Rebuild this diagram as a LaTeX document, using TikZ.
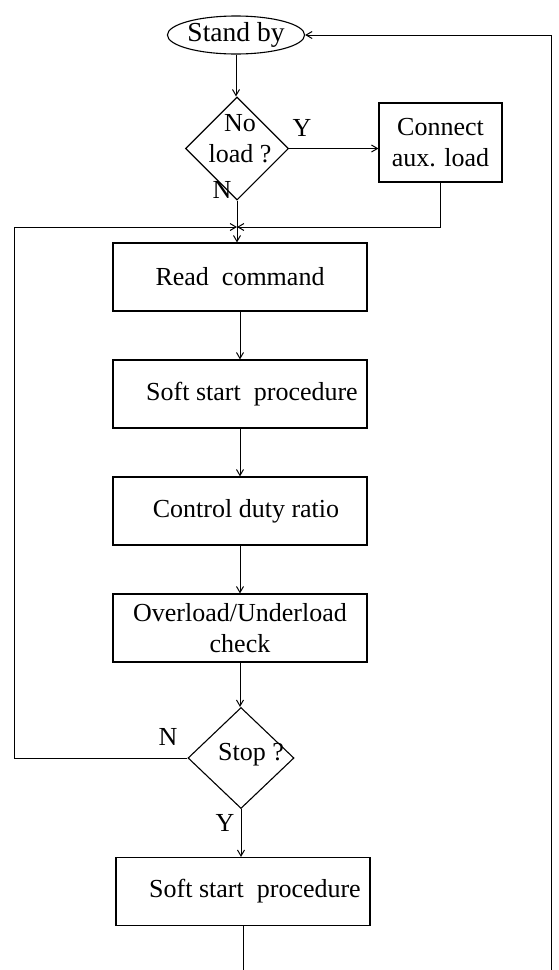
\documentclass[tikz,border=0pt]{standalone}
\usepackage{fontspec}
\setmainfont{Liberation Serif}
\usetikzlibrary{shapes.geometric,arrows.meta}
\begin{document}
\begin{tikzpicture}[x=1pt,y=-1pt,
  every node/.style={font=\fontsize{26}{31}\selectfont},
  box/.style={draw,line width=1.1pt,minimum width=254pt,minimum height=68pt,inner sep=0pt,align=center},
  dia/.style={draw,diamond,line width=1.1pt,inner sep=0pt},
  conn/.style={line width=1pt},
  arr/.style={conn,-{Straight Barb[length=6pt,width=7pt]}}]
\useasboundingbox (0,0) rectangle (559,970);
% nodes
\node[draw,ellipse,line width=1.1pt,minimum width=126pt,minimum height=38pt,inner sep=0pt,font=\fontsize{27.5}{31}\selectfont] (standby) at (236,35) {Stand by};
\node[dia,minimum width=103pt,minimum height=103pt] (q1) at (237,148.5) {};
\node[align=center] (q1t) at (240,139) {No\\load ?};
\node[box,minimum width=123pt,minimum height=79pt] (conn) at (440.5,142.5) {Connect\\aux. load};
\coordinate (jn) at (237,227);
\node[box] (read) at (240,277) {Read\ \ command};
\node[box] (soft1) at (240,394) {\hspace*{24pt}Soft start\ \ procedure};
\node[box] (ctrl) at (240,511) {\hspace*{12pt}Control duty ratio};
\node[box] (over) at (240,628) {Overload/Underload\\check};
\node[dia,minimum width=106pt,minimum height=101pt] (stop) at (241,758) {};
\node (stopt) at (251,755) {Stop ?};
\node[box] (soft2) at (243,891.5) {\hspace*{24pt}Soft start\ \ procedure};
% labels
\node (y1) at (302,128) {Y};
\node (n1) at (222,190) {N};
\node (n2) at (168,737) {N};
\node (y2) at (225,823) {Y};
% helper coordinates
\coordinate (lt) at (14,227);
\coordinate (rb) at (551,970);
\coordinate (bb) at (243,970);
% connectors
\draw[arr] (standby.south) -- (standby.south |- q1.north);
\draw[arr] (q1.east) -- (q1.east -| conn.west);
\draw[conn] (q1.south) -- (q1.south |- jn);
\draw[arr] (conn.south) |- (jn);
\draw[arr] (stop.west) -| (lt) -- (jn);
\draw[arr] (jn) -- (jn |- read.north);
\draw[arr] (read.south) -- (soft1.north);
\draw[arr] (soft1.south) -- (ctrl.north);
\draw[arr] (ctrl.south) -- (over.north);
\draw[arr] (over.south) -- (over.south |- stop.north);
\draw[arr] (stop.south) -- (stop.south |- soft2.north);
\draw[conn] (soft2.south) -- (bb);
\draw[arr] (rb) |- (standby.east);
\end{tikzpicture}
\end{document}
